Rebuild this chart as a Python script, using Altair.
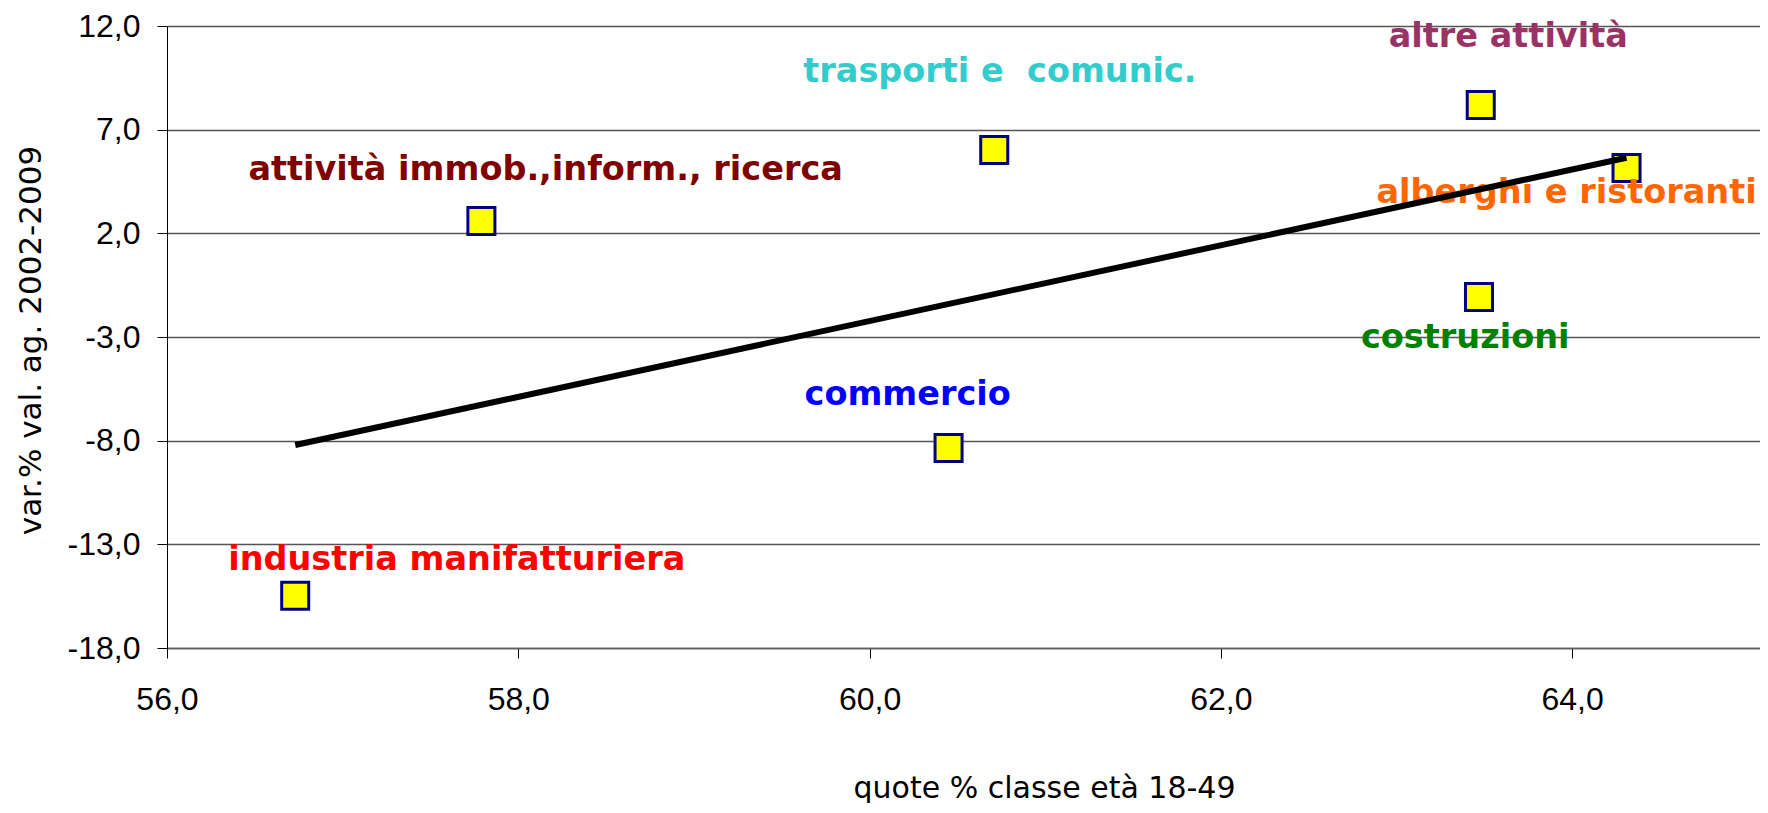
import altair as alt
import pandas as pd

# ---- data ----
sectors = [
    "industria manifatturiera",
    "attività immob.,inform., ricerca",
    "commercio",
    "trasporti e\u00a0 comunic.",
    "altre attività",
    "alberghi e ristoranti",
    "costruzioni",
]
quota_18_49 = [56.73, 57.79, 60.45, 60.71, 63.48, 64.31, 63.47]
var_val_ag = [-15.48, 2.60, -8.35, 6.02, 8.19, 5.15, -1.07]

x_ticks = [56, 58, 60, 62, 64]
y_ticks = [-18, -13, -8, -3, 2, 7, 12]

# ---- styling (not data) ----
label_colors = ["#FF0000", "#800000", "#0000FF", "#33CCCC", "#993366", "#FF6600", "#008000"]
label_offsets = [(-67, -26), (-233, -41), (-144, -43), (-191, -68), (-92, -58), (-250, 35), (-118, 51)]

df = pd.DataFrame({"settore": sectors, "quota": quota_18_49, "var": var_val_ag})

comma_expr = "(datum.value < 0 ? '-' : '') + replace(format(abs(datum.value), '.1f'), '.', ',')"

x_enc = alt.X(
    "quota:Q",
    scale=alt.Scale(domain=[56, 65.07], nice=False, zero=False),
    axis=alt.Axis(
        values=x_ticks,
        labelExpr=comma_expr,
        labelFont="Liberation Sans",
        labelFontSize=32,
        labelColor="black",
        labelPadding=26,
        labelFlush=False,
        tickColor="black",
        tickSize=10,
        tickWidth=1,
        domainColor="#606060",
        domainWidth=1.5,
        grid=False,
        title="quote % classe età 18-49",
        titleFont="DejaVu Sans",
        titleFontSize=30,
        titleFontWeight="normal",
        titleColor="black",
        titleX=877,
        titleY=149,
        titleAlign="center",
        titleBaseline="alphabetic",
    ),
)

y_enc = alt.Y(
    "var:Q",
    scale=alt.Scale(domain=[-18, 12], nice=False, zero=False),
    axis=alt.Axis(
        values=y_ticks,
        labelExpr=comma_expr,
        labelFont="Liberation Sans",
        labelFontSize=32,
        labelColor="black",
        labelPadding=17,
        labelFlush=False,
        tickColor="black",
        tickSize=10,
        tickWidth=1,
        domainColor="black",
        domainWidth=1,
        grid=True,
        gridColor="#555555",
        gridWidth=1.4,
        title="var.% val. ag. 2002-2009",
        titleFont="DejaVu Sans",
        titleFontSize=31,
        titleFontWeight="normal",
        titleColor="black",
        titleX=-136,
        titleY=314,
        titleAngle=270,
        titleAlign="center",
        titleBaseline="middle",
    ),
)

base = alt.Chart(df)

points = base.mark_square(
    size=730, color="#FFFF00", stroke="#000080", strokeWidth=3, opacity=1
).encode(x=x_enc, y=y_enc)

label_layers = []
for name, col, (dx, dy) in zip(sectors, label_colors, label_offsets):
    label_layers.append(
        base.transform_filter(alt.datum.settore == name)
        .mark_text(
            align="left",
            baseline="alphabetic",
            dx=dx,
            dy=dy,
            color=col,
            font="DejaVu Sans",
            fontWeight="bold",
            fontSize=33.5,
        )
        .encode(x="quota:Q", y="var:Q", text="settore:N")
    )

trend = (
    base.transform_regression("quota", "var", method="linear")
    .mark_line(color="black", strokeWidth=6)
    .encode(x="quota:Q", y="var:Q")
)

chart = (
    alt.layer(points, *label_layers, trend)
    .properties(
        width=1593,
        height=622,
        autosize=alt.AutoSizeParams(type="none"),
        padding={"left": 159, "top": 18, "right": 0, "bottom": 155},
        background="white",
    )
    .configure_view(stroke=None)
)

chart.save("out.html", embed_options={"renderer": "svg", "actions": False})
